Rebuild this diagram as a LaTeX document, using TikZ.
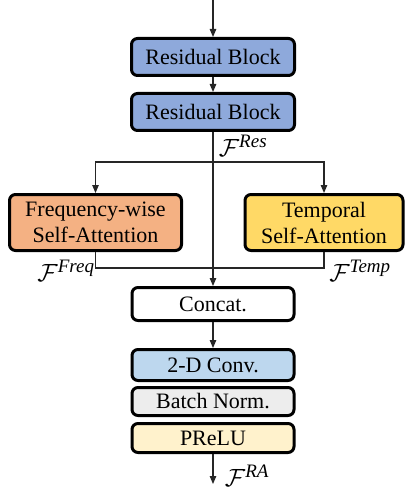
\documentclass[tikz,border=0pt]{standalone}
\usepackage{fontspec}
\setmainfont{Liberation Serif}
\usetikzlibrary{arrows.meta}
\definecolor{resblue}{HTML}{8EA9DB}
\definecolor{freqor}{HTML}{F4B183}
\definecolor{tempyel}{HTML}{FFD966}
\definecolor{convblue}{HTML}{BDD7EE}
\definecolor{bngray}{HTML}{EDEDED}
\definecolor{preluyel}{HTML}{FFF2CC}
\newcommand{\fsup}[1]{$\mathcal{F}^{\mbox{\fontsize{19}{19}\selectfont\itshape #1}}$}
\tikzset{
  blk/.style={draw=black, line width=3pt, rounded corners=6pt, inner sep=0pt, align=center,
    font=\fontsize{22}{26}\selectfont},
  conn/.style={line width=1.2pt, draw=black!85},
  arr/.style={conn, -{Triangle[length=8pt,width=6.5pt]}},
  lbl/.style={inner sep=0pt, font=\fontsize{25}{28}\selectfont}
}
\begin{document}
\begin{tikzpicture}[x=1pt,y=-1pt]
\useasboundingbox (0,0) rectangle (406,494);
\node[blk, fill=resblue, minimum width=163pt, minimum height=37pt] (rb1) at (213,57) {Residual Block};
\node[blk, fill=resblue, minimum width=163pt, minimum height=37pt] (rb2) at (213,112) {Residual Block};
\node[blk, fill=freqor, minimum width=172pt, minimum height=56pt] (freq) at (95.5,222.5) {Frequency-wise\\Self-Attention};
\node[blk, fill=tempyel, minimum width=158pt, minimum height=56pt] (temp) at (324,222.5) {Temporal\\Self-Attention};
\node[blk, fill=white, minimum width=162pt, minimum height=33pt] (cat) at (213,304) {Concat.};
\node[blk, fill=convblue, minimum width=162pt, minimum height=31pt] (conv) at (213,365) {2-D Conv.};
\node[blk, fill=bngray, minimum width=162pt, minimum height=28pt] (bn) at (213,401.5) {Batch Norm.};
\node[blk, fill=preluyel, minimum width=162pt, minimum height=29pt] (prelu) at (213,438) {PReLU};
\coordinate (top) at (213,0);
\coordinate (split) at (213,162);
\coordinate (merge) at (213,268);
\coordinate (bot) at (213,484);
\draw[arr] (top) -- (rb1.north);
\draw[arr] (rb1.south) -- (rb2.north);
\draw[arr] (rb2.south) -- (cat.north);
\draw[arr] (split) -| (freq.north);
\draw[arr] (split) -| (temp.north);
\draw[conn] (freq.south) |- (merge);
\draw[conn] (temp.south) |- (merge);
\draw[arr] (cat.south) -- (conv.north);
\draw[arr] (prelu.south) -- (bot);
\node[lbl] (fres) at (243,146) {\fsup{Res}};
\node[lbl] (ffreq) at (66,271) {\fsup{Freq}};
\node[lbl] (ftemp) at (360,271) {\fsup{Temp}};
\node[lbl] (fra) at (247,476) {\fsup{RA}};
\end{tikzpicture}
\end{document}
